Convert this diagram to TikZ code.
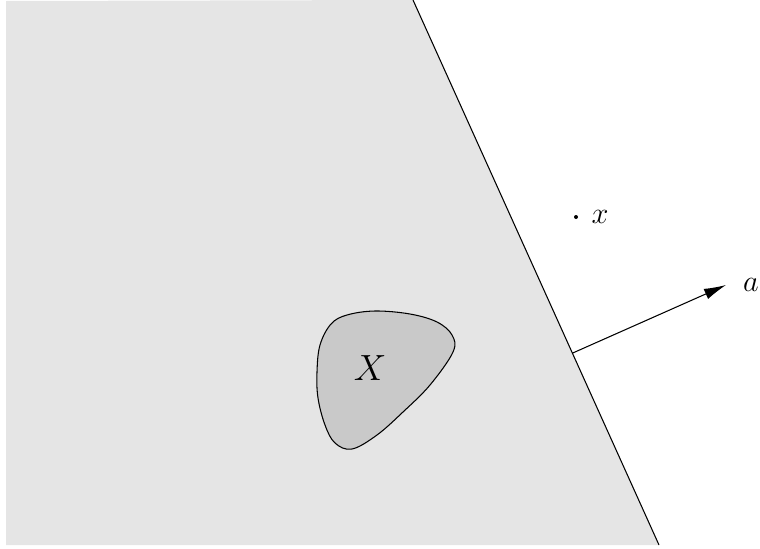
\documentclass[tikz,border=0pt]{standalone}
\usepackage{amsmath}
\usepackage{tikz}
\usetikzlibrary{calc,arrows.meta}

\begin{document}
\begin{tikzpicture}[x=0.02cm,y=-0.02cm,line width=0.6pt]
\useasboundingbox (0,0) rectangle (760,548);

% Boundary points of the halfspace
\coordinate (top) at (413,0);
\coordinate (bot) at (659,545);

% Halfspace
\fill[gray!20] (6,1) -- (top) -- (bot) -- (6,545) -- cycle;
\draw (top) -- (bot);

% Set X
\draw[fill=black!21] plot[smooth cycle,tension=0.6] coordinates {
  (347,315) (375,311) (410,314) (437,322) (452,335) (453,352)
  (430,385) (403,412) (377,435) (352,449) (335,443) (325,425)
  (318,398) (317,372) (320,345) (331,324)};
\node (X) at (370,368) {\fontsize{22}{24}\selectfont $X$};

% Point x
\coordinate (pt) at (576,217);
\fill (pt) circle (2);
\node (xlbl) at (600,217) {\fontsize{18}{20}\selectfont $x$};

% Normal vector a
\coordinate (base) at ($(top)!0.648!(bot)$);
\coordinate (tip) at (726,285);
\draw[-{Latex[length=4.4mm,width=2.2mm]}] (base) -- (tip);
\node (albl) at (751,285) {\fontsize{18}{20}\selectfont $a$};
\end{tikzpicture}
\end{document}
